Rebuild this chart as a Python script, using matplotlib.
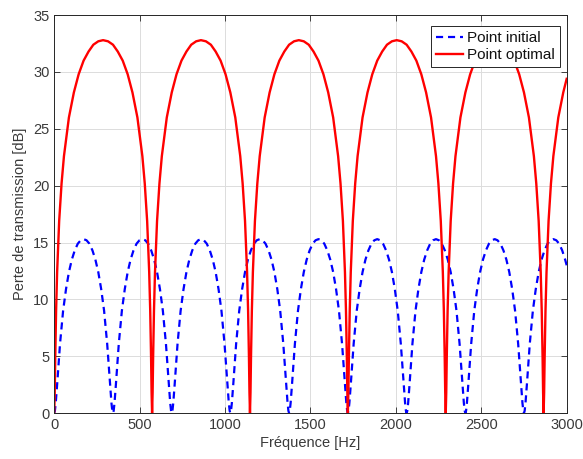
import numpy as np
import matplotlib
matplotlib.use("Agg")
import matplotlib.pyplot as plt

# Point initial (bleu, pointillé)
f_init = [
    0, 4, 9, 17, 34, 52, 69, 86, 103, 120, 138, 155, 172, 189, 206, 224, 241, 258, 275, 292, 310, 327, 335, 340,
    344, 348, 353, 361, 378, 396, 413, 430, 447, 464, 482, 499, 516, 533, 550, 568, 585, 602, 619, 636, 654, 671, 679, 684,
    688, 692, 697, 705, 722, 740, 757, 774, 791, 808, 826, 843, 860, 876, 893, 911, 928, 945, 962, 979, 997, 1014, 1022, 1027,
    1031, 1035, 1040, 1048, 1065, 1083, 1100, 1117, 1134, 1151, 1169, 1186, 1203, 1220, 1237, 1255, 1272, 1289, 1306, 1323, 1341, 1358, 1366, 1371,
    1375, 1379, 1384, 1392, 1409, 1427, 1444, 1461, 1478, 1495, 1513, 1530, 1547, 1564, 1581, 1599, 1616, 1633, 1650, 1667, 1685, 1702, 1710, 1715,
    1719, 1723, 1728, 1736, 1753, 1771, 1788, 1805, 1822, 1839, 1857, 1874, 1891, 1908, 1925, 1943, 1960, 1977, 1994, 2011, 2029, 2046, 2054, 2059,
    2063, 2067, 2072, 2080, 2097, 2115, 2132, 2149, 2166, 2183, 2201, 2218, 2235, 2252, 2269, 2287, 2304, 2321, 2338, 2355, 2373, 2390, 2398, 2403,
    2407, 2411, 2416, 2424, 2441, 2459, 2476, 2493, 2510, 2527, 2545, 2562, 2579, 2595, 2612, 2630, 2647, 2664, 2681, 2698, 2716, 2733, 2741, 2746,
    2750, 2754, 2759, 2767, 2784, 2802, 2819, 2836, 2853, 2870, 2888, 2905, 2922, 2939, 2956, 2974, 2991, 3000,
]
tl_init = [
    0, 0.2, 0.9, 2.5, 6.1, 9.0, 10.9, 12.4, 13.5, 14.3, 14.9, 15.2, 15.3, 15.2, 14.9, 14.3, 13.5, 12.4, 10.9, 9.0, 6.1, 2.5, 0.9, 0.2,
    0, 0.2, 0.9, 2.5, 6.1, 9.0, 10.9, 12.4, 13.5, 14.3, 14.9, 15.2, 15.3, 15.2, 14.9, 14.3, 13.5, 12.4, 10.9, 9.0, 6.1, 2.5, 0.9, 0.2,
    0, 0.2, 0.9, 2.5, 6.1, 9.0, 10.9, 12.4, 13.5, 14.3, 14.9, 15.2, 15.3, 15.2, 14.9, 14.3, 13.5, 12.4, 10.9, 9.0, 6.1, 2.5, 0.9, 0.2,
    0, 0.2, 0.9, 2.5, 6.1, 9.0, 10.9, 12.4, 13.5, 14.3, 14.9, 15.2, 15.3, 15.2, 14.9, 14.3, 13.5, 12.4, 10.9, 9.0, 6.1, 2.5, 0.9, 0.2,
    0, 0.2, 0.9, 2.5, 6.1, 9.0, 10.9, 12.4, 13.5, 14.3, 14.9, 15.2, 15.3, 15.2, 14.9, 14.3, 13.5, 12.4, 10.9, 9.0, 6.1, 2.5, 0.9, 0.2,
    0, 0.2, 0.9, 2.5, 6.1, 9.0, 10.9, 12.4, 13.5, 14.3, 14.9, 15.2, 15.3, 15.2, 14.9, 14.3, 13.5, 12.4, 10.9, 9.0, 6.1, 2.5, 0.9, 0.2,
    0, 0.2, 0.9, 2.5, 6.1, 9.0, 10.9, 12.4, 13.5, 14.3, 14.9, 15.2, 15.3, 15.2, 14.9, 14.3, 13.5, 12.4, 10.9, 9.0, 6.1, 2.5, 0.9, 0.2,
    0, 0.2, 0.9, 2.5, 6.1, 9.0, 10.9, 12.4, 13.5, 14.3, 14.9, 15.2, 15.3, 15.2, 14.9, 14.3, 13.5, 12.4, 10.9, 9.0, 6.1, 2.5, 0.9, 0.2,
    0, 0.2, 0.9, 2.5, 6.1, 9.0, 10.9, 12.4, 13.5, 14.3, 14.9, 15.2, 15.3, 15.2, 14.9, 14.3, 13.5, 13.0,
]

# Point optimal (rouge, continu)
f_opt = [
    0, 3, 6, 11, 17, 29, 43, 57, 86, 115, 143, 172, 201, 229, 258, 286, 315, 344, 372, 401, 430, 458, 487, 516, 530, 544, 556, 562, 567, 570,
    573, 576, 579, 584, 590, 602, 616, 630, 659, 688, 716, 745, 774, 802, 831, 859, 888, 917, 945, 974, 1003, 1031, 1060, 1089, 1103, 1117, 1129, 1135, 1140, 1143,
    1146, 1149, 1152, 1157, 1163, 1175, 1189, 1203, 1232, 1261, 1289, 1318, 1347, 1375, 1404, 1432, 1461, 1490, 1518, 1547, 1576, 1604, 1633, 1662, 1676, 1690, 1702, 1708, 1713, 1716,
    1719, 1722, 1725, 1730, 1736, 1748, 1762, 1776, 1805, 1834, 1862, 1891, 1920, 1948, 1977, 2005, 2034, 2063, 2091, 2120, 2149, 2177, 2206, 2235, 2249, 2263, 2275, 2281, 2286, 2289,
    2292, 2295, 2298, 2303, 2309, 2321, 2335, 2349, 2378, 2407, 2435, 2464, 2493, 2521, 2550, 2578, 2607, 2636, 2664, 2693, 2722, 2750, 2779, 2808, 2822, 2836, 2848, 2854, 2859, 2862,
    2865, 2868, 2871, 2876, 2882, 2894, 2908, 2922, 2951, 2980, 3000,
]
tl_opt = [
    0, 1.8, 4.9, 9.0, 12.4, 16.9, 20.2, 22.6, 26.0, 28.2, 29.8, 31.0, 31.8, 32.4, 32.7, 32.8, 32.7, 32.4, 31.8, 31.0, 29.8, 28.2, 26.0, 22.6, 20.2, 16.9, 12.4, 9.0, 4.9, 1.8,
    0, 1.8, 4.9, 9.0, 12.4, 16.9, 20.2, 22.6, 26.0, 28.2, 29.8, 31.0, 31.8, 32.4, 32.7, 32.8, 32.7, 32.4, 31.8, 31.0, 29.8, 28.2, 26.0, 22.6, 20.2, 16.9, 12.4, 9.0, 4.9, 1.8,
    0, 1.8, 4.9, 9.0, 12.4, 16.9, 20.2, 22.6, 26.0, 28.2, 29.8, 31.0, 31.8, 32.4, 32.7, 32.8, 32.7, 32.4, 31.8, 31.0, 29.8, 28.2, 26.0, 22.6, 20.2, 16.9, 12.4, 9.0, 4.9, 1.8,
    0, 1.8, 4.9, 9.0, 12.4, 16.9, 20.2, 22.6, 26.0, 28.2, 29.8, 31.0, 31.8, 32.4, 32.7, 32.8, 32.7, 32.4, 31.8, 31.0, 29.8, 28.2, 26.0, 22.6, 20.2, 16.9, 12.4, 9.0, 4.9, 1.8,
    0, 1.8, 4.9, 9.0, 12.4, 16.9, 20.2, 22.6, 26.0, 28.2, 29.8, 31.0, 31.8, 32.4, 32.7, 32.8, 32.7, 32.4, 31.8, 31.0, 29.8, 28.2, 26.0, 22.6, 20.2, 16.9, 12.4, 9.0, 4.9, 1.8,
    0, 1.8, 4.9, 9.0, 12.4, 16.9, 20.2, 22.6, 26.0, 28.2, 29.4,
]

x_ticks = [0, 500, 1000, 1500, 2000, 2500, 3000]
y_ticks = [0, 5, 10, 15, 20, 25, 30, 35]

plt.rcParams["font.family"] = ["Liberation Sans", "DejaVu Sans"]
dark = "#262626"
txt = "#3a3a3a"

fig = plt.figure(figsize=(5.83, 4.59), dpi=100)
ax = fig.add_axes([0.093, 0.100, 0.879, 0.867])

ax.plot(f_init, tl_init, color="#0000ff", lw=1.6, ls=(0, (3.2, 2.2)), label="Point initial")
ax.plot(f_opt, tl_opt, color="#ff0000", lw=1.7, label="Point optimal")

ax.set_xlim(0, 3000); ax.set_ylim(0, 35)
ax.set_xticks(x_ticks); ax.set_yticks(y_ticks)
ax.grid(True, color="#dcdcdc", lw=0.7)
ax.set_axisbelow(True)
ax.tick_params(direction="in", top=True, right=True, length=4, width=0.6, colors=dark,
               labelcolor=txt, labelsize=10.5)
for s in ax.spines.values():
    s.set_color(dark); s.set_linewidth(0.7)
ax.set_xlabel("Fréquence [Hz]", fontsize=10.5, color=txt, labelpad=3)
ax.set_ylabel("Perte de transmission [dB]", fontsize=10.5, color=txt, labelpad=4)

leg = ax.legend(loc="upper right", bbox_to_anchor=(0.986, 0.972), fontsize=11, fancybox=False,
                framealpha=1, edgecolor=dark, handlelength=1.75, handletextpad=0.3,
                borderpad=0.3, labelspacing=0.2, borderaxespad=0)
leg.get_frame().set_linewidth(0.7)
for t in leg.get_texts():
    t.set_color("#111111")

fig.savefig("out.png", dpi=100)
